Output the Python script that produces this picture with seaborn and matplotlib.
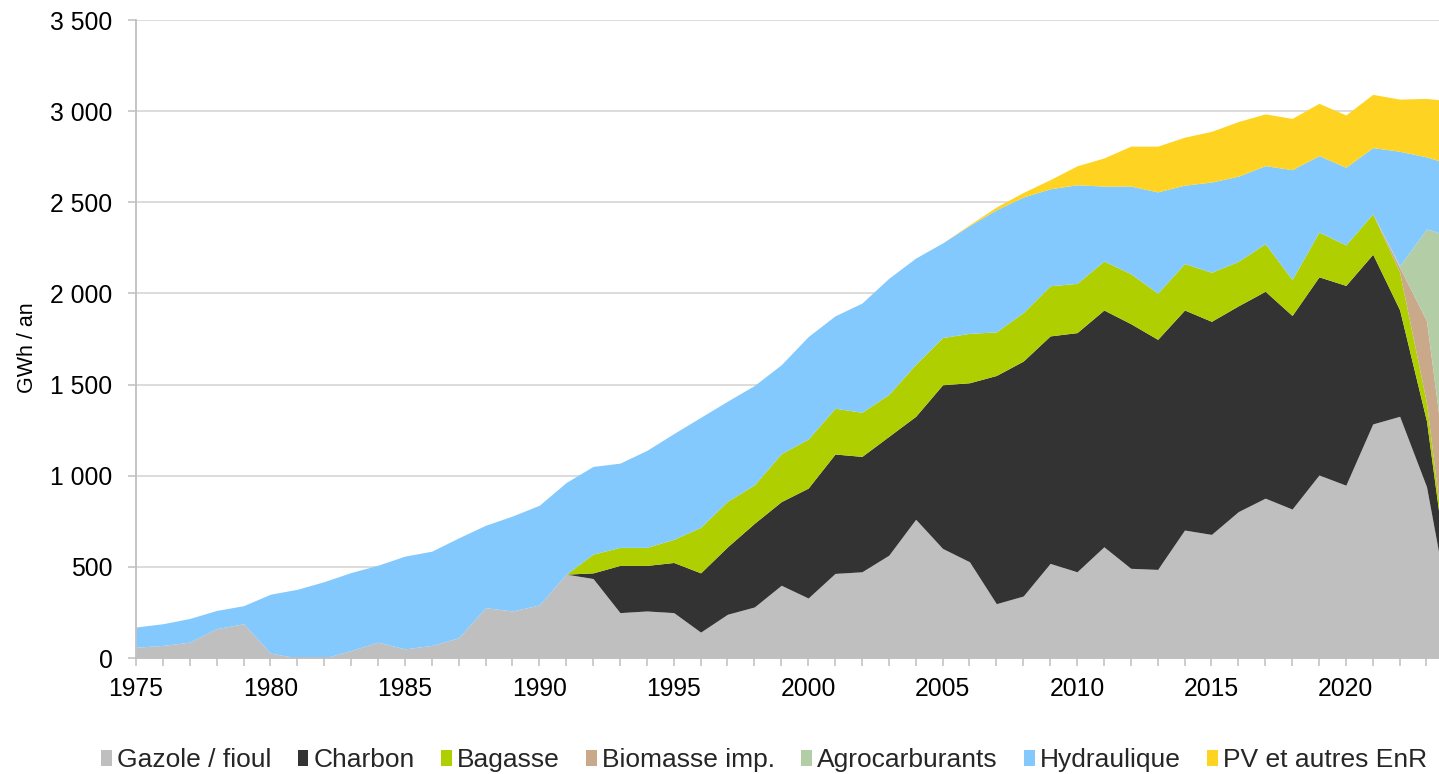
import numpy as np
import pandas as pd
import matplotlib
matplotlib.use("Agg")
import matplotlib.pyplot as plt
import seaborn as sns
from matplotlib.patches import Patch
from matplotlib.ticker import FixedLocator, FuncFormatter

# ---------------- data (GWh / an) ----------------
years = list(range(1975, 2025))

gazole = [59, 69, 87, 161, 188, 27, 0, 0, 41, 87,
          50, 69, 111, 276, 258, 291, 460, 436, 249, 258,
          249, 142, 240, 280, 399, 329, 464, 473, 564, 761,
          601, 528, 298, 340, 519, 473, 610, 492, 486, 702,
          678, 803, 877, 817, 1004, 948, 1284, 1326, 940, 144]

charbon = [0] * 16 + [0, 31, 259, 250,
          275, 325, 370, 459, 459, 603, 655, 633, 652, 565,
          898, 982, 1252, 1289, 1248, 1312, 1299, 1342, 1262, 1207,
          1169, 1129, 1135, 1062, 1087, 1096, 931, 584, 360, 59]

bagasse = [0] * 16 + [0, 103, 99, 99,
          127, 250, 250, 211, 263, 269, 251, 242, 230, 285,
          259, 271, 239, 266, 275, 270, 269, 274, 253, 255,
          269, 244, 261, 197, 246, 222, 222, 206, 100, 10]

biomasse = [0] * 46 + [0, 27, 450, 506]

agro = [0] * 47 + [9, 504, 1590]

hydro = [111, 119, 130, 100, 99, 323, 377, 419, 428, 422,
         509, 517, 548, 452, 521, 547, 503, 481, 462, 532,
         580, 603, 549, 545, 488, 562, 507, 599, 637, 583,
         519, 591, 670, 634, 532, 541, 411, 481, 556, 430,
         495, 467, 428, 603, 419, 426, 363, 628, 395, 395]

pv = [0] * 31 + [5, 15, 25, 50, 104, 154, 219, 251, 263,
      278, 300, 284, 281, 287, 287, 292, 286, 321, 350]

sources = ["Gazole / fioul", "Charbon", "Bagasse", "Biomasse imp.",
           "Agrocarburants", "Hydraulique", "PV et autres EnR"]
colors = ["#bfbfbf", "#333333", "#afcf00", "#c9a98a",
          "#b3cda7", "#83c9fd", "#ffd321"]
series = [gazole, charbon, bagasse, biomasse, agro, hydro, pv]

y_ticks = [0, 500, 1000, 1500, 2000, 2500, 3000, 3500]
x_ticks = [1975, 1980, 1985, 1990, 1995, 2000, 2005, 2010, 2015, 2020]

# ---------------- long table ----------------
df = pd.DataFrame({
    "year": np.tile(years, len(sources)),
    "source": np.repeat(sources, len(years)),
    "value": np.concatenate([np.asarray(s, dtype=float) for s in series]),
})

# ---------------- style ----------------
sns.set_theme(style="white")
plt.rcParams["font.family"] = ["Liberation Sans", "DejaVu Sans"]

W, H = 1439, 774
fig = plt.figure(figsize=(W / 100, H / 100), dpi=100)
ax = fig.add_axes([136 / W, 1 - 658 / H, 1 - 136 / W, (658 - 20) / H])

sns.histplot(
    data=df, x="year", weights="value", hue="source",
    hue_order=sources[::-1], multiple="stack", element="poly",
    discrete=True, fill=True, alpha=1, linewidth=0,
    palette=dict(zip(sources, colors)), legend=False, ax=ax,
)

grid_c = "#d9d9d9"
axis_c = "#bfbfbf"

ax.set_xlim(1975, 2023.465)
ax.set_ylim(0, 3500)
ax.yaxis.set_major_locator(FixedLocator(y_ticks))
ax.yaxis.set_major_formatter(FuncFormatter(lambda v, p: f"{v:,.0f}".replace(",", " ")))
ax.xaxis.set_major_locator(FixedLocator(x_ticks))
ax.xaxis.set_minor_locator(FixedLocator(years))
ax.xaxis.set_major_formatter(FuncFormatter(lambda v, p: f"{int(round(v))}"))

ax.set_axisbelow(True)
ax.grid(axis="y", color=grid_c, linewidth=1.3)
ax.grid(axis="x", visible=False)

for s in ["top", "right"]:
    ax.spines[s].set_visible(False)
for s in ["left", "bottom"]:
    ax.spines[s].set_color(axis_c)
    ax.spines[s].set_linewidth(1.3)
    ax.spines[s].set_zorder(5)

ax.tick_params(axis="y", which="major", direction="out", length=5.5, width=1.1,
               color=axis_c, labelsize=17.8, pad=11.5, left=True, labelcolor="black")
ax.tick_params(axis="x", which="both", direction="out", length=5.5, width=1.1,
               color=axis_c, labelsize=17.8, pad=8.5, bottom=True, labelcolor="black")

ax.set_xlabel("")
ax.set_ylabel("GWh / an", fontsize=15.5, color="black")
ax.yaxis.set_label_coords(-0.083, 0.486)
ax.yaxis.label.set_va("center")

handles = [Patch(facecolor=c, edgecolor="none") for c in colors]
fig.legend(handles, sources, loc="center", bbox_to_anchor=(0.531, 0.018),
           ncol=7, frameon=False, fontsize=19, handlelength=0.4,
           handleheight=0.55, handletextpad=0.2, columnspacing=1.0,
           borderaxespad=0, borderpad=0)

fig.savefig("out.png", dpi=100)
